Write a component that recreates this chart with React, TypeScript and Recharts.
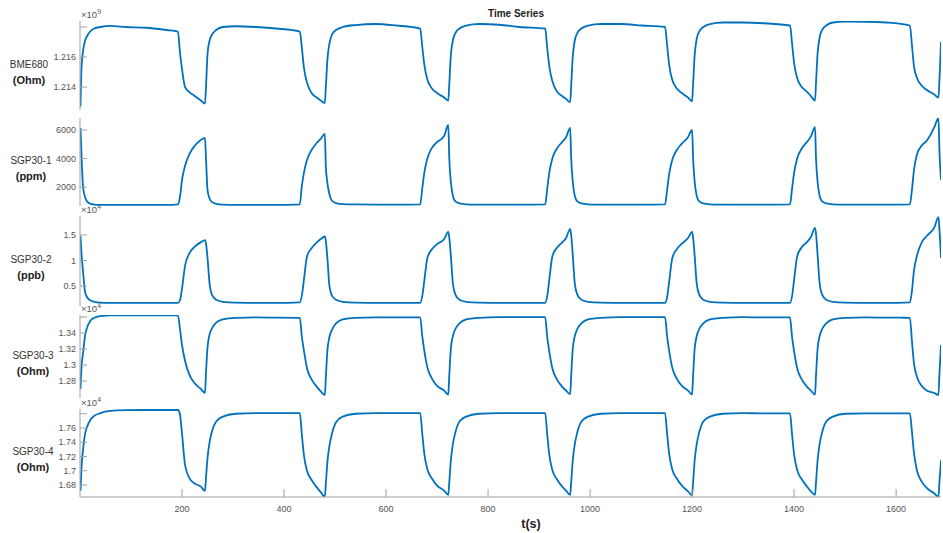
import { LineChart, Line, XAxis, YAxis } from 'recharts';

// sample times (s): start-up, then 7 gas pulses
const time = [
  1, 3, 6, 10, 14, 20, 28, 40, 60, 90, 130, 170,
  192, 196, 200, 206, 215, 225, 237, 245, 247, 250, 254, 259, 267, 280, 305, 345, 385,
  431, 435, 439, 445, 454, 464, 472, 480, 482, 485, 489, 494, 502, 515, 540, 580, 620,
  667, 671, 675, 681, 690, 700, 714, 722, 724, 727, 731, 736, 744, 757, 782, 822, 862,
  912, 916, 920, 926, 935, 945, 953, 961, 963, 966, 970, 975, 983, 996, 1021, 1061, 1101,
  1147, 1151, 1155, 1161, 1170, 1180, 1192, 1200, 1202, 1205, 1209, 1214, 1222, 1235, 1260, 1300, 1340,
  1392, 1396, 1400, 1406, 1415, 1425, 1433, 1441, 1443, 1446, 1450, 1455, 1463, 1476, 1501, 1541, 1581,
  1627, 1631, 1635, 1641, 1650, 1660, 1675, 1683, 1685, 1688,
];

// BME680 resistance, x1e9 Ohm
const bme680 = [
  1.2127, 1.2153, 1.2164, 1.2171, 1.2174, 1.2177, 1.2179, 1.218, 1.21807, 1.218, 1.21795, 1.2178,
  1.2177, 1.2163, 1.2152, 1.214, 1.21365, 1.2134, 1.2131, 1.2129, 1.214, 1.2162, 1.2171, 1.2175, 1.2178, 1.218, 1.21805, 1.218, 1.2179,
  1.2177, 1.2166, 1.2153, 1.2143, 1.2136, 1.2133, 1.2131, 1.21293, 1.214, 1.2158, 1.2169, 1.2175, 1.2178, 1.218, 1.21813, 1.2182, 1.2181,
  1.2179, 1.2167, 1.2155, 1.2145, 1.2139, 1.2136, 1.2133, 1.2131, 1.2142, 1.2161, 1.2171, 1.2176, 1.2179, 1.2181, 1.2182, 1.21815, 1.218,
  1.2179, 1.2166, 1.2154, 1.2144, 1.2137, 1.2134, 1.2132, 1.213, 1.2141, 1.216, 1.2171, 1.2176, 1.2179, 1.2181, 1.2182, 1.2182, 1.2181,
  1.218, 1.2168, 1.2155, 1.2145, 1.2139, 1.2136, 1.2133, 1.21305, 1.2142, 1.2161, 1.2172, 1.2177, 1.218, 1.2182, 1.2183, 1.2183, 1.21825,
  1.2181, 1.2169, 1.2156, 1.2146, 1.214, 1.2137, 1.2134, 1.2131, 1.2143, 1.2162, 1.2173, 1.2178, 1.2181, 1.2183, 1.21836, 1.21835, 1.2183,
  1.2181, 1.2168, 1.2154, 1.2146, 1.2141, 1.2138, 1.2135, 1.2133, 1.2145, 1.217,
];

// SGP30-1, ppm
const sgp30Ppm = [
  6150, 4200, 2000, 1300, 1000, 850, 780, 760, 755, 755, 755, 760,
  800, 1310, 2500, 3500, 4350, 4900, 5300, 5440, 4000, 1800, 1200, 950, 830, 780, 760, 760, 760,
  800, 2100, 3000, 3900, 4600, 5090, 5380, 5720, 3400, 2300, 1500, 1050, 880, 810, 790, 780, 780,
  800, 1900, 3000, 4000, 4750, 5150, 5600, 6350, 4000, 2400, 1400, 1000, 860, 800, 780, 770, 770,
  790, 1900, 3000, 4000, 4700, 5150, 5500, 6150, 4000, 2400, 1400, 1000, 860, 800, 780, 770, 770,
  790, 1800, 2900, 3900, 4600, 5050, 5500, 6000, 4000, 2400, 1400, 1000, 860, 800, 780, 770, 770,
  790, 1900, 3000, 4000, 4700, 5150, 5550, 6200, 4000, 2400, 1400, 1000, 860, 800, 780, 770, 770,
  800, 1800, 3200, 4300, 4900, 5250, 6200, 6840, 4500, 2500,
];

// SGP30-2, x1e4 ppb
const sgp30Ppb = [
  1.48, 1.12, 0.78, 0.38, 0.28, 0.22, 0.19, 0.175, 0.17, 0.168, 0.168, 0.168,
  0.17, 0.22, 0.45, 0.9, 1.15, 1.27, 1.36, 1.4, 1.33, 1.05, 0.55, 0.32, 0.23, 0.19, 0.175, 0.17, 0.168,
  0.18, 0.32, 0.62, 1.08, 1.24, 1.35, 1.42, 1.47, 1.38, 1.05, 0.5, 0.31, 0.23, 0.19, 0.175, 0.17, 0.168,
  0.17, 0.3, 0.6, 1.05, 1.22, 1.32, 1.42, 1.56, 1.45, 1.1, 0.55, 0.33, 0.23, 0.19, 0.175, 0.17, 0.168,
  0.17, 0.3, 0.62, 1.08, 1.25, 1.35, 1.44, 1.62, 1.5, 1.12, 0.55, 0.33, 0.23, 0.19, 0.175, 0.17, 0.168,
  0.17, 0.28, 0.58, 1.04, 1.22, 1.33, 1.44, 1.56, 1.45, 1.1, 0.55, 0.33, 0.23, 0.19, 0.175, 0.17, 0.168,
  0.17, 0.3, 0.62, 1.08, 1.26, 1.36, 1.46, 1.64, 1.52, 1.12, 0.56, 0.33, 0.23, 0.19, 0.175, 0.17, 0.168,
  0.18, 0.4, 0.8, 1.1, 1.35, 1.48, 1.65, 1.85, 1.6, 1.05,
];

// SGP30-3, x1e4 Ohm
const sgp30R3 = [
  1.27, 1.298, 1.315, 1.337, 1.347, 1.355, 1.359, 1.3612, 1.3622, 1.3622, 1.3622, 1.362,
  1.362, 1.345, 1.325, 1.305, 1.287, 1.277, 1.27, 1.265, 1.29, 1.322, 1.338, 1.346, 1.353, 1.357, 1.359, 1.3595, 1.3592,
  1.359, 1.335, 1.318, 1.296, 1.282, 1.273, 1.267, 1.2625, 1.285, 1.318, 1.335, 1.344, 1.352, 1.357, 1.359, 1.3595, 1.3595,
  1.3595, 1.336, 1.318, 1.297, 1.283, 1.274, 1.268, 1.263, 1.287, 1.32, 1.336, 1.345, 1.352, 1.357, 1.359, 1.3598, 1.3598,
  1.3598, 1.335, 1.317, 1.296, 1.282, 1.273, 1.268, 1.2635, 1.287, 1.32, 1.336, 1.345, 1.352, 1.357, 1.359, 1.3598, 1.3598,
  1.3598, 1.336, 1.318, 1.297, 1.283, 1.274, 1.268, 1.263, 1.287, 1.32, 1.336, 1.345, 1.352, 1.357, 1.359, 1.3598, 1.3595,
  1.3595, 1.335, 1.317, 1.296, 1.282, 1.273, 1.268, 1.263, 1.287, 1.32, 1.336, 1.345, 1.352, 1.357, 1.359, 1.3595, 1.3592,
  1.359, 1.33, 1.302, 1.285, 1.274, 1.268, 1.265, 1.2625, 1.29, 1.325,
];

// SGP30-4, x1e4 Ohm
const sgp30R4 = [
  1.672, 1.705, 1.73, 1.752, 1.762, 1.771, 1.777, 1.781, 1.784, 1.785, 1.7853, 1.7853,
  1.7853, 1.779, 1.752, 1.708, 1.689, 1.682, 1.6776, 1.6716, 1.69, 1.718, 1.74, 1.756, 1.769, 1.776, 1.78, 1.781, 1.781,
  1.781, 1.75, 1.722, 1.7, 1.687, 1.677, 1.67, 1.6635, 1.682, 1.712, 1.735, 1.752, 1.768, 1.776, 1.78, 1.781, 1.781,
  1.781, 1.752, 1.724, 1.702, 1.689, 1.679, 1.672, 1.666, 1.684, 1.714, 1.737, 1.754, 1.769, 1.776, 1.78, 1.781, 1.781,
  1.781, 1.751, 1.723, 1.701, 1.688, 1.678, 1.672, 1.666, 1.684, 1.714, 1.737, 1.754, 1.769, 1.776, 1.78, 1.781, 1.781,
  1.781, 1.752, 1.724, 1.702, 1.689, 1.679, 1.671, 1.6655, 1.684, 1.714, 1.737, 1.754, 1.769, 1.776, 1.78, 1.781, 1.7805,
  1.7805, 1.751, 1.723, 1.701, 1.688, 1.678, 1.671, 1.666, 1.684, 1.714, 1.737, 1.754, 1.769, 1.776, 1.78, 1.7805, 1.7805,
  1.7805, 1.755, 1.725, 1.7, 1.685, 1.676, 1.668, 1.6635, 1.685, 1.715,
];

const xTicks = [200, 400, 600, 800, 1000, 1200, 1400, 1600];
const bmeTicks = [1.214, 1.216, 1.218];
const ppmTicks = [2000, 4000, 6000];
const ppbTicks = [0.5, 1, 1.5];
const r3Ticks = [1.28, 1.3, 1.32, 1.34, 1.36];
const r4Ticks = [1.68, 1.7, 1.72, 1.74, 1.76, 1.78];

const rows = time.map((t, i) => ({
  t,
  bme: bme680[i],
  ppm: sgp30Ppm[i],
  ppb: sgp30Ppb[i],
  r3: sgp30R3[i],
  r4: sgp30R4[i],
}));

const BLUE = '#0072BD';
const AXIS = '#a0a0a0';
const FONT = '"Liberation Sans", Arial, Helvetica, sans-serif';
const W = 943;
const AXIS_X = 80;

const panels = [
  { key: 'bme', top: 21, bottom: 110, domain: [1.21247, 1.2184], ticks: bmeTicks, blank: 1.218, name: 'BME680', unit: '(Ohm)', exp: '9', lx: 29 },
  { key: 'ppm', top: 118, bottom: 206, domain: [680, 6840], ticks: ppmTicks, blank: null, name: 'SGP30-1', unit: '(ppm)', exp: null, lx: 31 },
  { key: 'ppb', top: 216, bottom: 306, domain: [0.108, 1.872], ticks: ppbTicks, blank: null, name: 'SGP30-2', unit: '(ppb)', exp: '4', lx: 31 },
  { key: 'r3', top: 315, bottom: 398, domain: [1.25875, 1.3625], ticks: r3Ticks, blank: 1.36, name: 'SGP30-3', unit: '(Ohm)', exp: '4', lx: 33 },
  { key: 'r4', top: 409, bottom: 497, domain: [1.6631, 1.7867], ticks: r4Ticks, blank: 1.78, name: 'SGP30-4', unit: '(Ohm)', exp: '4', lx: 33 },
];

function YTick({ x, y, payload, blank }: any) {
  const v = payload.value;
  return (
    <g>
      <line x1={AXIS_X} x2={AXIS_X + 7} y1={y} y2={y} stroke={AXIS} />
      {v !== blank && (
        <text x={x} y={y} dy={3.2} textAnchor="end" fontSize={9} fill="#555" fontFamily={FONT}>
          {String(v)}
        </text>
      )}
    </g>
  );
}

function XTick({ x, y, payload }: any) {
  return (
    <g>
      <line x1={x} x2={x} y1={y} y2={y - 8} stroke={AXIS} />
      <text x={x} y={y + 15} textAnchor="middle" fontSize={9} fill="#555" fontFamily={FONT}>
        {payload.value}
      </text>
    </g>
  );
}

export default function App() {
  return (
    <div style={{ position: 'relative', width: W, height: 533, background: '#fff', overflow: 'hidden' }}>
      <style>{'body{margin:0}'}</style>
      {panels.map((p, i) => {
        const last = i === panels.length - 1;
        return (
          <div key={p.key} style={{ position: 'absolute', left: 0, top: p.top }}>
            <LineChart
              width={W}
              height={p.bottom - p.top + (last ? 36 : 0)}
              data={rows}
              margin={{ top: 0, right: 2, bottom: 0, left: 0 }}
            >
              <XAxis
                dataKey="t"
                type="number"
                domain={[0, 1688]}
                ticks={xTicks}
                interval={0}
                hide={!last}
                height={36}
                allowDataOverflow
                axisLine={{ stroke: AXIS }}
                tickLine={false}
                tickSize={0}
                tickMargin={0}
                tick={<XTick />}
              />
              <YAxis
                width={AXIS_X}
                type="number"
                domain={p.domain as [number, number]}
                ticks={p.ticks}
                interval={0}
                allowDataOverflow
                axisLine={{ stroke: AXIS }}
                tickLine={false}
                tickSize={0}
                tickMargin={4}
                tick={(props: any) => <YTick {...props} blank={p.blank} />}
              />
              <Line
                dataKey={p.key}
                type="monotone"
                stroke={BLUE}
                strokeWidth={1.8}
                dot={false}
                isAnimationActive={false}
              />
            </LineChart>
          </div>
        );
      })}
      <svg width={W} height={533} style={{ position: 'absolute', left: 0, top: 0, pointerEvents: 'none' }}>
        <text x={516} y={17} textAnchor="middle" fontSize={10} fontWeight="bold" fill="#222" fontFamily={FONT}>
          Time Series
        </text>
        {panels.map((p) => {
          const mid = (p.top + p.bottom) / 2;
          return (
            <g key={p.key} fontFamily={FONT}>
              <text x={p.lx} y={mid + 2} textAnchor="middle" fontSize={10} fill="#333">{p.name}</text>
              <text x={p.lx} y={mid + 18} textAnchor="middle" fontSize={11} fontWeight="bold" fill="#222">{p.unit}</text>
              {p.exp && (
                <text x={81} y={p.top - 3} fontSize={9.5} fill="#555">
                  {'\u00d710'}
                  <tspan dy={-4} fontSize={7}>{p.exp}</tspan>
                </text>
              )}
            </g>
          );
        })}
        <text x={531} y={528} textAnchor="middle" fontSize={12.5} fontWeight="bold" fill="#222" fontFamily={FONT}>
          t(s)
        </text>
      </svg>
    </div>
  );
}
